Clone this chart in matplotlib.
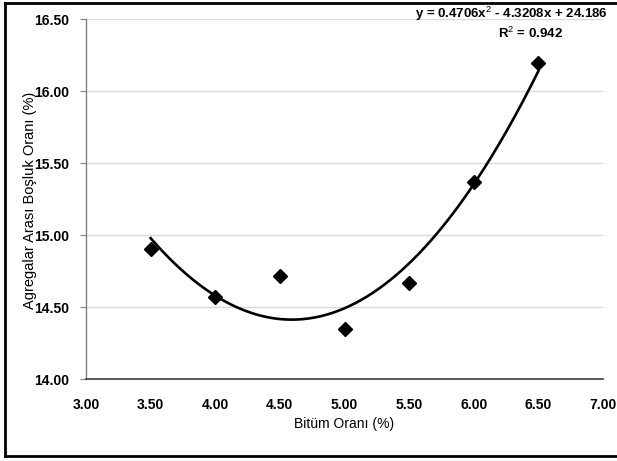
import numpy as np
import matplotlib
matplotlib.use("Agg")
import matplotlib.pyplot as plt
from matplotlib.lines import Line2D

# Bitumen content (%) vs. voids in mineral aggregate (%)
bitumen = [3.5, 4.0, 4.5, 5.0, 5.5, 6.0, 6.5]
vma = [14.905, 14.567, 14.714, 14.346, 14.668, 15.365, 16.193]

x_ticks = [3.0, 3.5, 4.0, 4.5, 5.0, 5.5, 6.0, 6.5, 7.0]
y_ticks = [14.0, 14.5, 15.0, 15.5, 16.0, 16.5]

eq_text = "y = 0.4706x$^{2}$ - 4.3208x + 24.186"
r2_text = "R$^{2}$ = 0.942"

FONT = ["Liberation Sans", "DejaVu Sans"]
plt.rcParams["font.family"] = FONT
plt.rcParams["mathtext.fontset"] = "custom"
plt.rcParams["mathtext.rm"] = "Liberation Sans"
plt.rcParams["mathtext.bf"] = "Liberation Sans:bold"

W, H = 617, 461
fig = plt.figure(figsize=(W / 100, H / 100), dpi=100)

# axes placed in pixel terms
left, right, top, bottom = 86, 603, 19, 379
ax = fig.add_axes([left / W, 1 - bottom / H, (right - left) / W, (bottom - top) / H])

ax.set_xlim(3.0, 7.0)
ax.set_ylim(14.0, 16.5)
ax.set_xticks(x_ticks)
ax.set_yticks(y_ticks)
ax.set_xticklabels([f"{v:.2f}" for v in x_ticks], fontweight="bold", fontsize=10)
ax.set_yticklabels([f"{v:.2f}" for v in y_ticks], fontweight="bold", fontsize=10)
ax.tick_params(axis="x", length=0, pad=14)
ax.tick_params(axis="y", length=4, width=0.8, color="#808080", pad=8)

for s in ("top", "right"):
    ax.spines[s].set_visible(False)
ax.spines["left"].set_color("#808080")
ax.spines["left"].set_linewidth(1.0)
ax.spines["bottom"].set_color("#404040")
ax.spines["bottom"].set_linewidth(1.2)

ax.yaxis.grid(True, color="#d9d9d9", linewidth=1.0)
ax.set_axisbelow(True)

# second-order polynomial trendline fitted to the data
coef = np.polyfit(bitumen, vma, 2)
xs = np.linspace(min(bitumen), max(bitumen), 200)
ax.plot(xs, np.polyval(coef, xs), color="black", linewidth=1.9, zorder=3)

ax.plot(bitumen, vma, linestyle="none", marker="D", markersize=7,
        color="black", zorder=4)

ax.set_xlabel("Bitüm Oranı (%)", fontsize=10)
ax.xaxis.set_label_coords((344 - left) / (right - left), -(424 - bottom) / (bottom - top))
ax.set_ylabel("Agregalar Arası Boşluk Oranı (%)", fontsize=10.5)
ax.yaxis.set_label_coords(-(left - 30) / (right - left), (bottom - 200) / (bottom - top))
ax.xaxis.label.set_va("center")
ax.yaxis.label.set_va("center")

# outer frame
lw = 2.0
for (x0, y0, x1, y1) in [(5, 3, W, 3), (5, 3, 5, 456), (5, 456, W, 456)]:
    fig.add_artist(Line2D([x0 / W, x1 / W], [1 - y0 / H, 1 - y1 / H],
                          color="black", linewidth=lw, transform=fig.transFigure))

fig.text(511 / W, 1 - 14 / H, eq_text, ha="center", va="center", fontsize=9.5,
         fontweight="bold", zorder=5)
fig.text(530 / W, 1 - 33 / H, r2_text, ha="center", va="center", fontsize=9.5,
         fontweight="bold", zorder=5)

fig.savefig("out.png", dpi=100, facecolor="white")
